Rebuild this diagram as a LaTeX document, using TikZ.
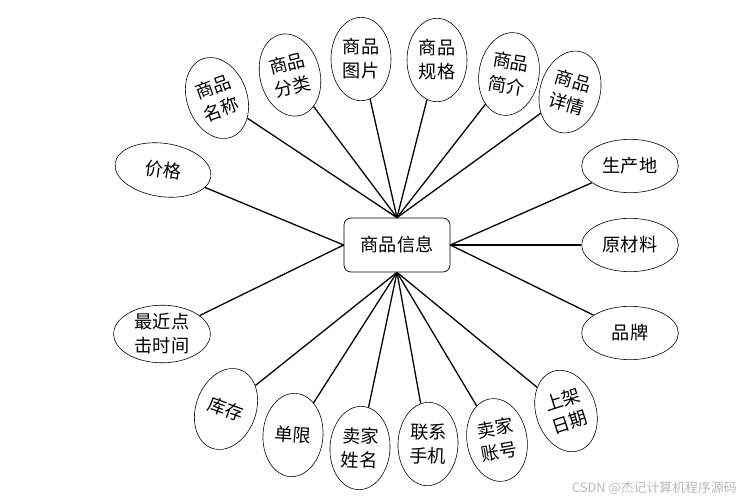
\documentclass[tikz,border=0pt]{standalone}
\usepackage{fontspec}
\setmainfont{Noto Sans CJK SC}
\usetikzlibrary{shapes.geometric}

\begin{document}
\begin{tikzpicture}[x=0.03cm, y=-0.03cm,
    attr/.style={draw, ellipse, line width=0.5pt, minimum width=1.8cm, minimum height=2.5cm,
      inner sep=0pt, align=center, font=\fontsize{15.5}{20.5}\selectfont},
    wide/.style={attr, minimum width=2.9cm, minimum height=1.6cm},
    link/.style={line width=1.1pt}]
  \useasboundingbox (0,0) rectangle (745,501);

  % entity
  \node[draw, line width=0.6pt, rounded corners=6pt, minimum width=3.18cm, minimum height=1.62cm,
    font=\fontsize{15.5}{20.5}\selectfont] (info) at (397,245) {商品信息};

  % attributes above
  \node[wide, rotate=-8] (price) at (163,170) {价格};
  \node[attr, rotate=20] (name) at (217,98) {商品\\名称};
  \node[attr, rotate=14] (kind) at (290,75) {商品\\分类};
  \node[attr] (image) at (361,59) {商品\\图片};
  \node[attr] (spec) at (437,60) {商品\\规格};
  \node[attr, rotate=-10] (brief) at (509,74) {商品\\简介};
  \node[attr, rotate=-16] (detail) at (570,92) {商品\\详情};

  % attributes right
  \node[wide] (origin) at (630,166) {生产地};
  \node[wide] (material) at (630,245) {原材料};
  \node[wide] (brand) at (630,333) {品牌};

  % attributes left and below
  \node[wide] (click) at (162,334) {最近点\\击时间};
  \node[attr, rotate=-20] (stock) at (226,409) {库存};
  \node[attr, rotate=-4] (limit) at (293,435) {单限};
  \node[attr, rotate=-3] (seller) at (360,448) {卖家\\姓名};
  \node[attr, rotate=-2] (phone) at (428,444) {联系\\手机};
  \node[attr, rotate=10] (account) at (497,440) {卖家\\账号};
  \node[attr, rotate=18] (onsale) at (566,411) {上架\\日期};

  % links
  \draw[link] (info.west) -- (price);
  \draw[link] (info.west) -- (click);
  \draw[link] (info.north) -- (name);
  \draw[link] (info.north) -- (kind);
  \draw[link] (info.north) -- (image);
  \draw[link] (info.north) -- (spec);
  \draw[link] (info.north) -- (brief);
  \draw[link] (info.north) -- (detail);
  \draw[link] (info.east) -- (origin);
  \draw[link] (info.east) -- (material);
  \draw[link] (info.east) -- (brand);
  \draw[link] (info.south) -- (stock);
  \draw[link] (info.south) -- (limit);
  \draw[link] (info.south) -- (seller);
  \draw[link] (info.south) -- (phone);
  \draw[link] (info.south) -- (account);
  \draw[link] (info.south) -- (onsale);

  \node[gray!55, anchor=east, inner sep=0pt, font=\fontsize{11}{12}\selectfont] (mark) at (737,488) {CSDN @杰记计算机程序源码};
\end{tikzpicture}
\end{document}
